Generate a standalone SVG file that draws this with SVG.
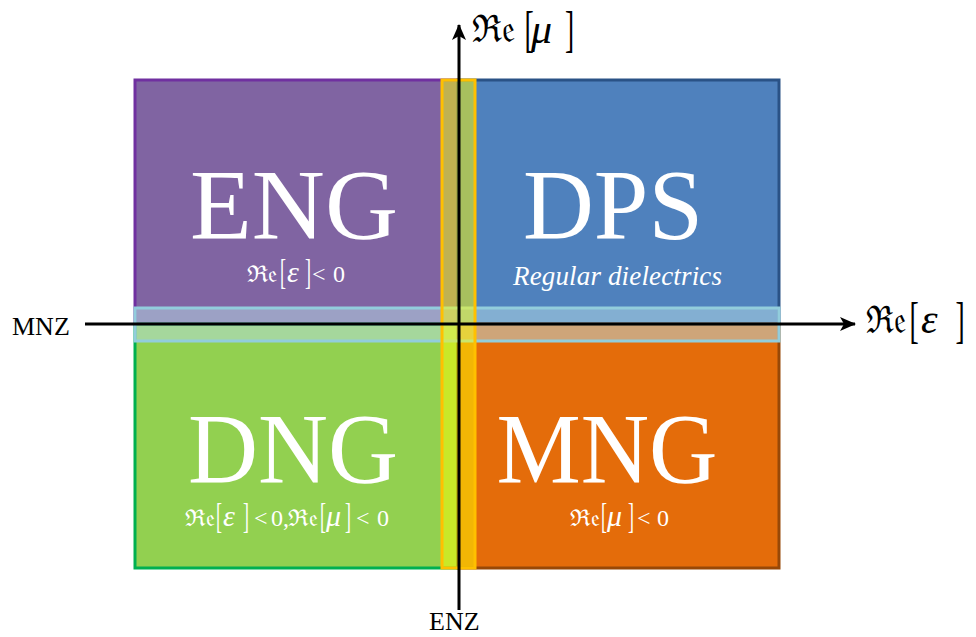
<svg xmlns="http://www.w3.org/2000/svg" width="976" height="637" viewBox="0 0 976 637">
<style>
.big{font-family:"Liberation Serif","Times New Roman",serif;font-size:100px;fill:#fff;text-anchor:middle}
.lbl{font-family:"Liberation Serif","Times New Roman",serif;font-size:26px;fill:#000}
.m{font-family:"Liberation Serif","DejaVu Serif",serif;font-size:24px}
.fr{font-family:"DejaVu Serif","Noto Sans",serif;font-size:23px}
.it{font-style:italic;font-size:30px}
.br{font-family:"Liberation Serif","DejaVu Serif",serif;font-size:30px}
.bb{font-family:"Liberation Serif","DejaVu Serif",serif;font-size:46px}
.afr{font-family:"DejaVu Serif","Noto Sans",serif;font-size:38px}
.ait{font-family:"Liberation Serif","DejaVu Serif",serif;font-style:italic;font-size:42px}
.w{fill:#fff}
</style>
<defs>
<marker id="arr" viewBox="0 0 16 14" refX="15" refY="7" markerWidth="16" markerHeight="14" markerUnits="userSpaceOnUse" orient="auto">
<path d="M0,0 L16,7 L0,14 L4,7 z" fill="#000"/>
</marker>
</defs>
<g id="ENG">
<rect x="135" y="80" width="323" height="244" fill="#8064a2" stroke="#7030a0" stroke-width="3"/>
<text class="big" x="294" y="238" textLength="208" lengthAdjust="spacingAndGlyphs">ENG</text>
<g class="w">
<text class="fr" x="247" y="282" textLength="31" lengthAdjust="spacingAndGlyphs">ℜ𝔢</text>
<text class="br" transform="translate(280,284) scale(0.6,1.2)">[</text>
<text class="m it" x="287" y="282">ε</text>
<text class="br" transform="translate(305,284) scale(0.6,1.2)">]</text>
<text class="m" x="312" y="282">&lt;</text>
<text class="m" x="333" y="282">0</text>
</g>
</g>
<g id="DPS">
<rect x="458" y="80" width="321" height="244" fill="#4f81bd" stroke="#2a5286" stroke-width="3"/>
<text class="big" x="613" y="238" textLength="180" lengthAdjust="spacingAndGlyphs">DPS</text>
<text class="w" font-family="Liberation Serif, serif" font-size="27" font-style="italic" x="513" y="285" textLength="209" lengthAdjust="spacing">Regular dielectrics</text>
</g>
<g id="DNG">
<rect x="135" y="324" width="323" height="244" fill="#92d050" stroke="#00b050" stroke-width="3"/>
<text class="big" x="293" y="482" textLength="210" lengthAdjust="spacingAndGlyphs">DNG</text>
<g class="w">
<text class="fr" x="185" y="526" textLength="30" lengthAdjust="spacingAndGlyphs">ℜ𝔢</text>
<text class="br" transform="translate(216,528) scale(0.6,1.2)">[</text>
<text class="m it" x="223" y="526">ε</text>
<text class="br" transform="translate(243,528) scale(0.6,1.2)">]</text>
<text class="m" x="254" y="526">&lt;</text>
<text class="m" x="271" y="526">0,</text>
<text class="fr" x="288" y="526" textLength="30" lengthAdjust="spacingAndGlyphs">ℜ𝔢</text>
<text class="br" transform="translate(320,528) scale(0.6,1.2)">[</text>
<text class="m it" x="326" y="526">μ</text>
<text class="br" transform="translate(345,528) scale(0.6,1.2)">]</text>
<text class="m" x="356" y="526">&lt;</text>
<text class="m" x="377" y="526">0</text>
</g>
</g>
<g id="MNG">
<rect x="458" y="324" width="321" height="244" fill="#e46c0a" stroke="#984807" stroke-width="3"/>
<text class="big" x="607" y="482" textLength="221" lengthAdjust="spacingAndGlyphs">MNG</text>
<g class="w">
<text class="fr" x="570" y="526" textLength="30" lengthAdjust="spacingAndGlyphs">ℜ𝔢</text>
<text class="br" transform="translate(601,528) scale(0.6,1.2)">[</text>
<text class="m it" x="607" y="526">μ</text>
<text class="br" transform="translate(628,528) scale(0.6,1.2)">]</text>
<text class="m" x="637" y="526">&lt;</text>
<text class="m" x="657" y="526">0</text>
</g>
</g>
<g id="MNZ-band">
<rect x="135" y="308" width="644" height="33" fill="#b7dee8" fill-opacity="0.5" stroke="#92cddc" stroke-width="3"/>
</g>
<g id="ENZ-band">
<rect x="442" y="80" width="33" height="488" fill="#ffff00" fill-opacity="0.5" stroke="#ffc000" stroke-width="3"/>
</g>
<g id="connectors">
<line x1="85" y1="324" x2="855" y2="324" stroke="#000" stroke-width="3" marker-end="url(#arr)"/>
<line x1="459" y1="610" x2="459" y2="25" stroke="#000" stroke-width="3" marker-end="url(#arr)"/>
</g>
<g id="labels">
<text class="lbl" x="12" y="335">MNZ</text>
<text class="lbl" x="429" y="630">ENZ</text>
<text class="afr" x="472" y="42" textLength="43" lengthAdjust="spacingAndGlyphs">ℜ𝔢</text>
<text class="bb" transform="translate(524.5,46) scale(0.6,1.12)">[</text>
<text class="ait" x="531" y="43">μ</text>
<text class="bb" transform="translate(565,46) scale(0.6,1.12)">]</text>
<text class="afr" x="866" y="333" textLength="40" lengthAdjust="spacingAndGlyphs">ℜ𝔢</text>
<text class="bb" transform="translate(909.5,337) scale(0.6,1.12)">[</text>
<text class="ait" x="921" y="333">ε</text>
<text class="bb" transform="translate(955.5,337) scale(0.6,1.12)">]</text>
</g>
</svg>
